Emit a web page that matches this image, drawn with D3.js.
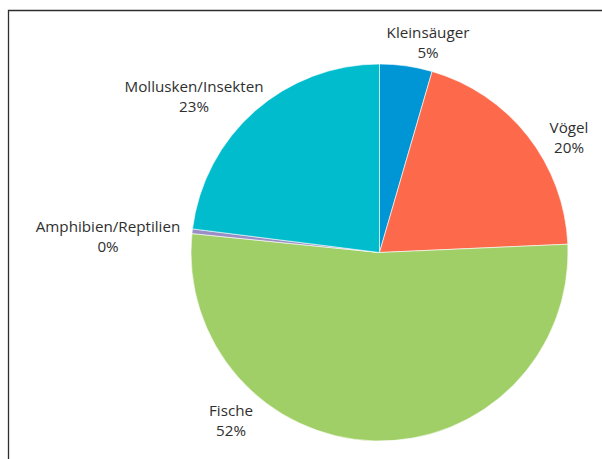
<!DOCTYPE html>
<html>
<head>
<meta charset="utf-8">
<script src="https://cdn.jsdelivr.net/npm/d3@7/dist/d3.min.js"></script>
<style>
  html, body { margin: 0; padding: 0; background: #fff; }
  svg { display: block; }
  text { font-family: "Open Sans", "Noto Sans", sans-serif; font-size: 15.2px; fill: #2f2f2f; }
</style>
</head>
<body>
<svg id="chart" width="602" height="459"></svg>
<script>
// Nahrungsanteile (Prozent), im Uhrzeigersinn ab 12 Uhr
const categories = ["Kleinsäuger", "Vögel", "Fische", "Amphibien/Reptilien", "Mollusken/Insekten"];
const shares = [4.5, 19.8, 52.3, 0.4, 23.0];
const colors = ["#0095d5", "#fd6a4b", "#a1cf67", "#9b8ec4", "#00bccd"];

const width = 602, height = 459;
const cx = 379.5, cy = 252.5, radius = 188.5;

// Beschriftungspositionen (Mitte des Textblocks, Grundlinie der ersten Zeile)
const labelAnchors = [
  [428, 38], [569, 133], [231, 416], [108, 232], [194, 92]
];

const svg = d3.select("#chart");

// Rahmen oben und links
svg.append("path")
  .attr("d", `M8.5,${height} V10.5 H${width}`)
  .attr("fill", "none")
  .attr("stroke", "#2e2e2e")
  .attr("stroke-width", 1.3);

const data = categories.map((c, i) => ({ name: c, value: shares[i], color: colors[i], i }));

const pie = d3.pie().value(d => d.value).sort(null);
const arc = d3.arc().innerRadius(0).outerRadius(radius);

const g = svg.append("g").attr("transform", `translate(${cx},${cy})`);

g.selectAll("path.slice")
  .data(pie(data))
  .join("path")
  .attr("class", "slice")
  .attr("d", arc)
  .attr("fill", d => d.data.color)
  .attr("stroke", "#fff")
  .attr("stroke-width", 0.6);

const fmt = v => Math.round(v + 1e-9) + "%";

const labels = svg.selectAll("text.lbl")
  .data(data)
  .join("text")
  .attr("class", "lbl")
  .attr("text-anchor", "middle")
  .attr("transform", d => `translate(${labelAnchors[d.i][0]},${labelAnchors[d.i][1]})`);

labels.append("tspan").attr("x", 0).attr("dy", 0).text(d => d.name);
labels.append("tspan").attr("x", 0).attr("dy", 20).text(d => fmt(d.value));
</script>
</body>
</html>
